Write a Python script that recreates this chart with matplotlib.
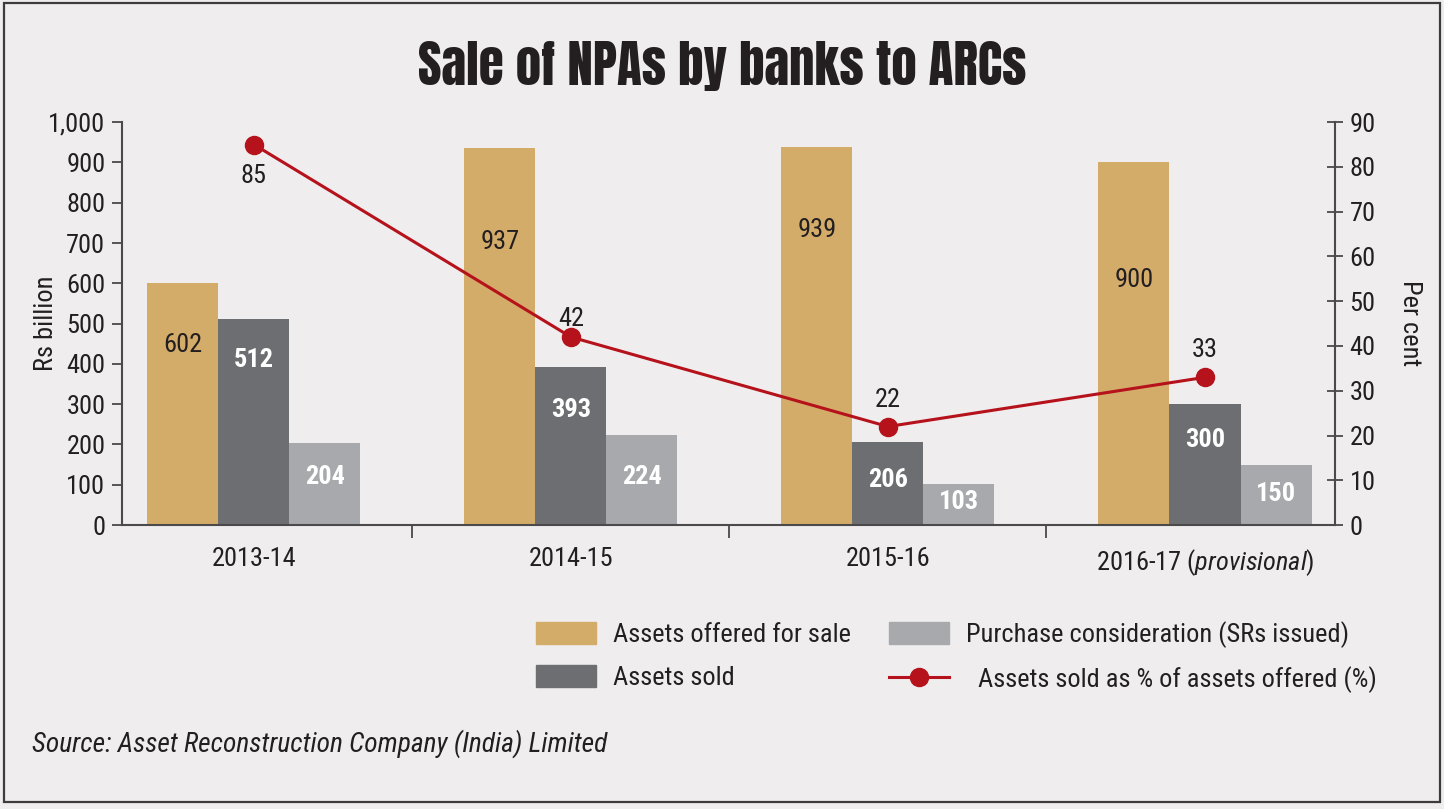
import numpy as np
import matplotlib
matplotlib.use('Agg')
import matplotlib.pyplot as plt
from matplotlib import font_manager as fm
from matplotlib.patches import Patch, Rectangle
from matplotlib.lines import Line2D

have = set(f.name for f in fm.fontManager.ttflist)


def pick(names):
    for n in names:
        if n in have:
            return n
    return 'DejaVu Sans'


body_font = pick(['Roboto Condensed', 'Archivo Narrow', 'Liberation Sans Narrow', 'Asap Condensed'])
title_font = pick(['Anton', 'Oswald', 'Archivo Narrow', 'Roboto Condensed'])

plt.rcParams['font.family'] = [body_font, 'DejaVu Sans']
plt.rcParams['mathtext.fontset'] = 'custom'
plt.rcParams['mathtext.rm'] = body_font
plt.rcParams['mathtext.it'] = body_font + ':italic'

# data
years = ['2013-14', '2014-15', '2015-16', '2016-17 ($\\mathit{provisional}$)']
offered = [602, 937, 939, 900]
sold = [512, 393, 206, 300]
purchase = [204, 224, 103, 150]
pct_sold = [85, 42, 22, 33]

# label heights (layout only)
offered_lab_y = [447, 702, 732, 608]
sold_lab_y = [409, 285, 112, 211]
purchase_lab_y = [119, 119, 57, 77]
pct_lab_y = [78, 46, 28, 39]

c_gold = '#D4AC6A'
c_dark = '#6D6E71'
c_light = '#A7A9AC'
c_red = '#B5121B'
bg = '#EFEDEE'
c_axis = '#4A4A4A'
c_text = '#231F20'

fig = plt.figure(figsize=(14.44, 8.09), dpi=100, facecolor=bg)
fig.patches.append(Rectangle((0.003, 0.009), 0.994, 0.987, transform=fig.transFigure,
                             fill=False, edgecolor='#3C3C3C', linewidth=1.6))
ax = fig.add_axes([0.0845, 0.351, 0.8400, 0.498])
ax.set_facecolor(bg)

x = np.arange(len(years))
w = 0.224
ax.bar(x - w, offered, w, color=c_gold, edgecolor='none')
ax.bar(x, sold, w, color=c_dark, edgecolor='none')
ax.bar(x + w, purchase, w, color=c_light, edgecolor='none')

for i in range(len(years)):
    ax.text(x[i] - w, offered_lab_y[i], str(offered[i]), ha='center', va='center',
            fontsize=19, color=c_text)
    ax.text(x[i], sold_lab_y[i], str(sold[i]), ha='center', va='center',
            fontsize=19, color='white', fontweight='bold')
    ax.text(x[i] + w, purchase_lab_y[i], str(purchase[i]), ha='center', va='center',
            fontsize=19, color='white', fontweight='bold')

ax.set_xlim(-0.416, 3.41)
ax.set_ylim(0, 1000)
ax.set_yticks(range(0, 1001, 100))
ax.set_yticklabels([f'{v:,}' for v in range(0, 1001, 100)])
ax.set_xticks([0.5, 1.5, 2.5])
ax.set_xticklabels([])
ax.set_xticks(x, minor=True)
ax.set_xticklabels(years, minor=True)
ax.tick_params(axis='x', which='major', direction='out', length=9, width=1.3, color=c_axis)
ax.tick_params(axis='x', which='minor', length=0, pad=15.5, labelsize=19, labelcolor=c_text)
ax.tick_params(axis='y', direction='out', length=7, width=1.3, color=c_axis,
               labelsize=19, labelcolor=c_text, pad=5)
for s in ['top', 'right']:
    ax.spines[s].set_visible(False)
for s in ['left', 'bottom']:
    ax.spines[s].set_color(c_axis)
    ax.spines[s].set_linewidth(1.5)
ax.set_ylabel('Rs billion', fontsize=19, color=c_text)
ax.yaxis.set_label_coords(-0.053, 0.5)

ax2 = ax.twinx()
ax2.plot(x, pct_sold, color=c_red, linewidth=2.2, marker='o', markersize=13)
for i in range(len(years)):
    ax2.text(x[i], pct_lab_y[i], str(pct_sold[i]), ha='center', va='center',
             fontsize=19, color=c_text)
ax2.set_ylim(0, 90)
ax2.set_yticks(range(0, 91, 10))
ax2.tick_params(axis='y', direction='inout', length=11, width=1.3, color=c_axis,
                labelsize=19, labelcolor=c_text, pad=5)
for s in ['top', 'left', 'bottom']:
    ax2.spines[s].set_visible(False)
ax2.spines['right'].set_color(c_axis)
ax2.spines['right'].set_linewidth(1.5)
ax2.set_ylabel('Per cent', fontsize=19, color=c_text, rotation=270, va='center')
ax2.yaxis.set_label_coords(1.062, 0.5)

fig.text(0.5, 0.918, 'Sale of NPAs by banks to ARCs', ha='center', va='center',
         fontsize=36.7, color=c_text, family=[title_font, 'DejaVu Sans'])

handles = [Patch(color=c_gold), Patch(color=c_dark), Patch(color=c_light),
           Line2D([], [], color=c_red, linewidth=2.2, marker='o', markersize=13)]
labels = ['Assets offered for sale', 'Assets sold', 'Purchase consideration (SRs issued)',
          '  Assets sold as % of assets offered (%)']
leg = fig.legend(handles, labels, ncol=2, loc='upper left', bbox_to_anchor=(0.355, 0.262),
                 frameon=False, fontsize=19, handlelength=2.27, handleheight=0.9,
                 handletextpad=0.64, columnspacing=1.45, labelspacing=0.7,
                 labelcolor=c_text)

fig.text(0.022, 0.081, 'Source: Asset Reconstruction Company (India) Limited',
         fontsize=19.8, style='italic', color=c_text, va='center')

fig.savefig('out.png', dpi=100, facecolor=bg)
